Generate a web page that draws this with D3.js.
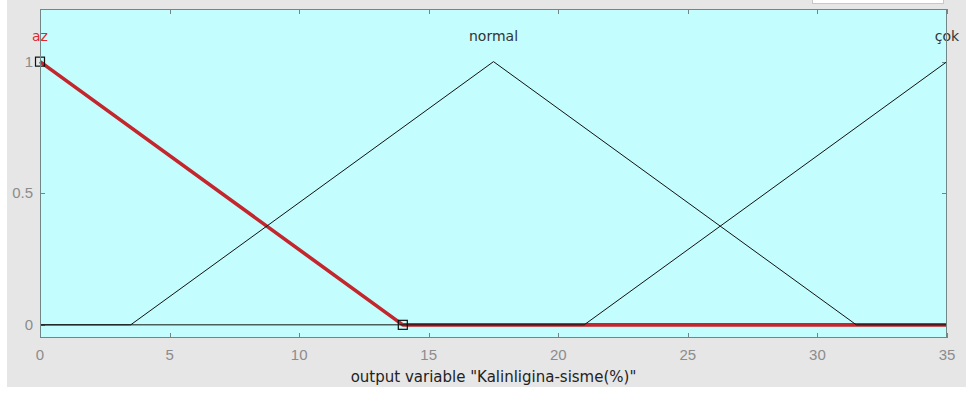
<!DOCTYPE html>
<html>
<head>
<meta http-equiv="Content-Type" content="text/html;charset=utf-8"/>
<style>
  body { margin: 0; background: #ffffff; }
  svg { display: block; font-family: "DejaVu Sans", sans-serif; }
</style>
</head>
<body>
  <svg id="mf-svg"></svg>
  <script src="https://d3js.org/d3.v7.min.js"></script>
  <script>
  // Membership functions of the output variable (x, degree) pairs
  var azPoints = [[0, 1], [14, 0], [35, 0]];
  var normalPoints = [[0, 0], [3.5, 0], [17.5, 1], [31.5, 0], [35, 0]];
  var cokPoints = [[0, 0], [21, 0], [35, 1]];
  var mfNames = ['az', 'normal', 'çok'];
  var mfPeaks = [0, 17.5, 35];
  var handlePoints = [[0, 1], [14, 0]];
  var xTicks = [0, 5, 10, 15, 20, 25, 30, 35];
  var yTicks = [0, 0.5, 1];
  var yTickLabels = ['0', '0.5', '1'];

  var config = {
    svgWidth: 966,
    svgHeight: 394,
    left: 40,
    right: 947,
    top: 9,
    bottom: 338,
    tickLength: 5
  };

  var svg = d3.select('#mf-svg')
    .attr('width', config.svgWidth)
    .attr('height', config.svgHeight);

  // figure background
  svg.append('rect')
    .attr('x', 7).attr('y', 0)
    .attr('width', config.svgWidth - 7).attr('height', 387)
    .attr('fill', '#e6e6e6');

  // partial white box at top right
  svg.append('rect')
    .attr('x', 812.5).attr('y', -4)
    .attr('width', 131).attr('height', 7.5)
    .attr('fill', '#ffffff')
    .attr('stroke', '#c8c8c8');

  var x = d3.scaleLinear().domain([0, 35]).range([config.left, config.right]);
  var y = d3.scaleLinear().domain([-0.05, 1.2]).range([config.bottom, config.top]);

  // plot area
  svg.append('rect')
    .attr('x', config.left).attr('y', config.top)
    .attr('width', config.right - config.left)
    .attr('height', config.bottom - config.top)
    .attr('fill', '#c4fdfd');

  // ticks inside the box, top and bottom / left and right
  var tickColor = '#718686';
  var ticksG = svg.append('g').attr('stroke', tickColor).attr('stroke-width', 1);
  xTicks.forEach(function(t) {
    var px = Math.round(x(t)) + 0.5;
    ticksG.append('line').attr('x1', px).attr('x2', px)
      .attr('y1', config.bottom).attr('y2', config.bottom - config.tickLength);
    ticksG.append('line').attr('x1', px).attr('x2', px)
      .attr('y1', config.top).attr('y2', config.top + config.tickLength);
  });
  yTicks.forEach(function(t) {
    var py = Math.round(y(t)) + 0.5;
    ticksG.append('line').attr('x1', config.left).attr('x2', config.left + config.tickLength)
      .attr('y1', py).attr('y2', py);
    ticksG.append('line').attr('x1', config.right).attr('x2', config.right - config.tickLength)
      .attr('y1', py).attr('y2', py);
  });

  // tick labels
  svg.append('g').selectAll('text')
    .data(xTicks)
    .join('text')
    .attr('x', function(d) { return x(d); })
    .attr('y', 360)
    .attr('text-anchor', 'middle')
    .attr('font-family', '"Liberation Sans", Arial, sans-serif')
    .attr('font-size', '15px')
    .attr('fill', '#8c8c8c')
    .text(function(d) { return d; });

  svg.append('g').selectAll('text')
    .data(yTicks)
    .join('text')
    .attr('x', 33)
    .attr('y', function(d) { return y(d) + 5; })
    .attr('text-anchor', 'end')
    .attr('font-family', '"Liberation Sans", Arial, sans-serif')
    .attr('font-size', '15px')
    .attr('fill', '#8c8c8c')
    .text(function(d, i) { return yTickLabels[i]; });

  var line = d3.line()
    .x(function(d) { return x(d[0]); })
    .y(function(d) { return y(d[1]); });

  // selected MF (red, thick) drawn first, others on top
  svg.append('path')
    .attr('d', line(azPoints))
    .attr('fill', 'none')
    .attr('stroke', '#c3262c')
    .attr('stroke-width', 3.6)
    .attr('stroke-linejoin', 'round');

  [normalPoints, cokPoints].forEach(function(pts) {
    svg.append('path')
      .attr('d', line(pts))
      .attr('fill', 'none')
      .attr('stroke', '#111111')
      .attr('stroke-width', 1);
  });

  // handle squares
  svg.append('g').selectAll('rect')
    .data(handlePoints)
    .join('rect')
    .attr('x', function(d) { return x(d[0]) - 4.5; })
    .attr('y', function(d) { return y(d[1]) - 4.5; })
    .attr('width', 9).attr('height', 9)
    .attr('fill', 'none')
    .attr('stroke', '#111111')
    .attr('stroke-width', 1.2);

  // MF names
  svg.append('g').selectAll('text')
    .data(mfNames)
    .join('text')
    .attr('x', function(d, i) { return x(mfPeaks[i]); })
    .attr('y', 41)
    .attr('text-anchor', 'middle')
    .attr('font-size', '14px')
    .attr('fill', function(d, i) { return i === 0 ? '#e0282e' : '#333333'; })
    .text(function(d) { return d; });

  // frame
  svg.append('rect')
    .attr('x', config.left + 0.5).attr('y', config.top + 0.5)
    .attr('width', config.right - config.left - 1)
    .attr('height', config.bottom - config.top - 1)
    .attr('fill', 'none')
    .attr('stroke', tickColor);

  // x axis title
  svg.append('text')
    .attr('x', (config.left + config.right) / 2)
    .attr('y', 382)
    .attr('text-anchor', 'middle')
    .attr('font-size', '15px')
    .attr('fill', '#222222')
    .text('output variable "Kalinligina-sisme(%)"');
  </script>
</body>
</html>
